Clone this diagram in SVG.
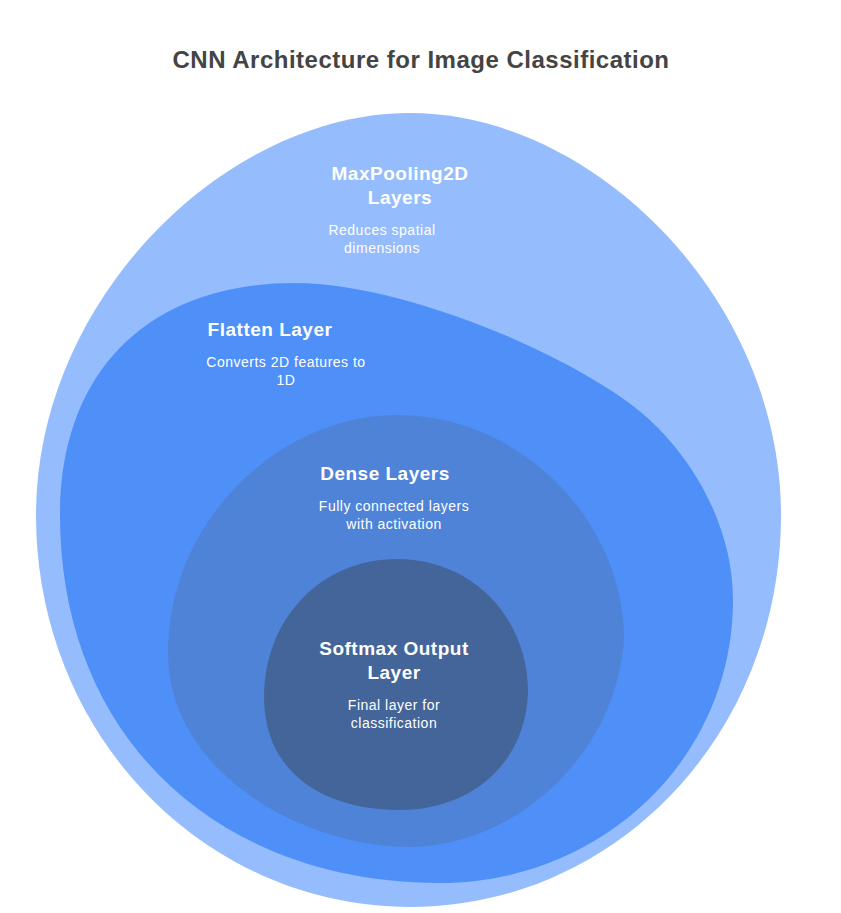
<svg xmlns="http://www.w3.org/2000/svg" width="841" height="913" viewBox="0 0 841 913">
<style>
.title{font-family:"Liberation Sans",Arial,sans-serif;font-size:24px;font-weight:bold;fill:#444444;text-anchor:middle;letter-spacing:0.5px}
.h{font-family:"Liberation Sans",Arial,sans-serif;font-size:19px;font-weight:bold;fill:#ffffff;text-anchor:middle;letter-spacing:0.5px}
.d{font-family:"Liberation Sans",Arial,sans-serif;font-size:14px;fill:#ffffff;text-anchor:middle;letter-spacing:0.5px}
</style>
<rect width="841" height="913" fill="#ffffff"/>
<text class="title" x="421" y="68">CNN Architecture for Image Classification</text>
<g id="maxpooling">
<path fill="#95BCFD" d="M410,113 C595,113 781,300 781,515 C781,735 615,907 410,907 C205,907 36,735 36,515 C36,300 225,113 410,113 Z"/>
</g>
<g id="flatten">
<path fill="#4F8FF8" d="M295,283 C390,283 540,340 625,400 C685,442 733,520 733,600 C733,760 600,883 440,883 C220,883 60,740 60,515 C60,370 150,283 295,283 Z"/>
</g>
<g id="dense">
<path fill="#4F83D8" d="M397,415 C520,415 624,520 624,640 C615,760 510,847 410,847 C300,847 168,770 168,653 C168,520 280,415 397,415 Z"/>
</g>
<g id="softmax">
<path fill="#436599" d="M397,559 C470,559 528,615 528,693 C525,765 470,810 400,810 C320,810 264,770 264,697 C264,620 320,559 397,559 Z"/>
</g>
<g id="labels">
<text class="h" x="400" y="180">MaxPooling2D</text>
<text class="h" x="400" y="204">Layers</text>
<text class="d" x="382" y="235">Reduces spatial</text>
<text class="d" x="382" y="253">dimensions</text>
<text class="h" x="270" y="336">Flatten Layer</text>
<text class="d" x="286" y="367">Converts 2D features to</text>
<text class="d" x="286" y="385">1D</text>
<text class="h" x="385" y="480">Dense Layers</text>
<text class="d" x="394" y="511">Fully connected layers</text>
<text class="d" x="394" y="529">with activation</text>
<text class="h" x="394" y="655">Softmax Output</text>
<text class="h" x="394" y="679">Layer</text>
<text class="d" x="394" y="710">Final layer for</text>
<text class="d" x="394" y="728">classification</text>
</g>
<g id="connectors"></g>
</svg>
